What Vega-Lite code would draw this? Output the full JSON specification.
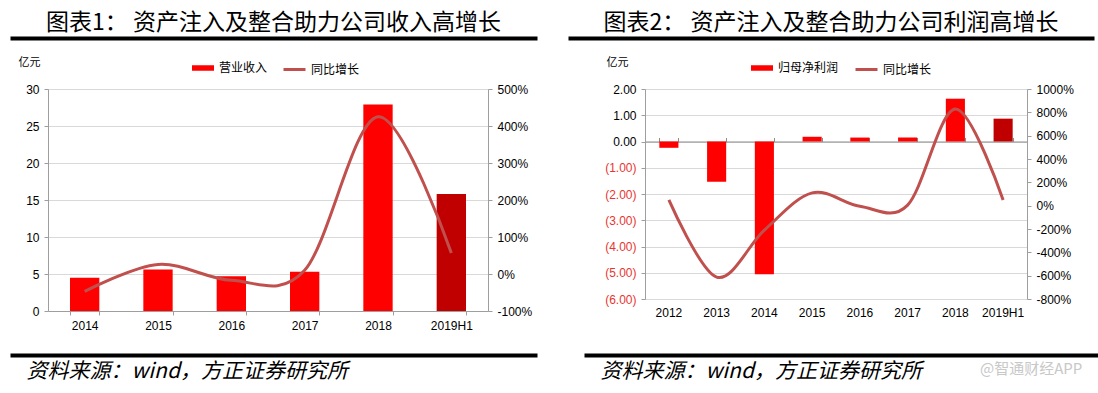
{
  "$schema": "https://vega.github.io/schema/vega-lite/v6.json",
  "padding": {"left": 8, "top": 12, "right": 0, "bottom": 10},
  "background": "white",
  "config": {
    "view": {"stroke": null},
    "font": "Liberation Sans",
    "axis": {"labelFont": "Liberation Sans", "labelFontSize": 12, "labelColor": "#000000", "domainColor": "#9E9E9E", "tickColor": "#9E9E9E", "gridColor": "#D9D9D9", "titleFont": "Noto Sans CJK SC", "titleFontWeight": "normal", "titleColor": "#000000"},
    "legend": {"labelFont": "Noto Sans CJK SC", "labelFontSize": 12, "labelColor": "#000000", "padding": 0},
    "title": {"font": "Noto Sans CJK SC", "fontWeight": "normal", "color": "#000000"}
  },
  "datasets": {
    "rev": [
      {"period": "2014", "revenue": 4.5, "growth": -47},
      {"period": "2015", "revenue": 5.6, "growth": 26},
      {"period": "2016", "revenue": 4.7, "growth": -17},
      {"period": "2017", "revenue": 5.3, "growth": 10},
      {"period": "2018", "revenue": 27.9, "growth": 425},
      {"period": "2019H1", "revenue": 15.8, "growth": 57}
    ],
    "prof": [
      {"period": "2012", "profit": -0.24, "growth": 49},
      {"period": "2013", "profit": -1.53, "growth": -612},
      {"period": "2014", "profit": -5.06, "growth": -209},
      {"period": "2015", "profit": 0.18, "growth": 110},
      {"period": "2016", "profit": 0.15, "growth": -5},
      {"period": "2017", "profit": 0.15, "growth": 5},
      {"period": "2018", "profit": 1.63, "growth": 828},
      {"period": "2019H1", "profit": 0.87, "growth": 49}
    ]
  },
  "spacing": 18,
  "resolve": {"scale": {"fill": "independent", "stroke": "independent"}, "legend": {"fill": "independent", "stroke": "independent"}},
  "vconcat": [
    {
      "spacing": 25,
      "hconcat": [
        {
          "width": 527, "height": 1,
          "title": {"text": "图表1：  资产注入及整合助力公司收入高增长", "fontSize": 23, "anchor": "middle", "frame": "group", "dx": -38, "offset": 2},
          "data": {"values": [{"v": 0.5}]},
          "mark": {"type": "point", "opacity": 0, "size": 0},
          "encoding": {"x": {"field": "v", "type": "quantitative", "scale": {"domain": [0, 1], "range": [-38, 489]}, "axis": {"orient": "bottom", "domainColor": "#000000", "domainWidth": 4, "labels": false, "ticks": false, "grid": false, "title": null}}}
        },
        {
          "width": 526, "height": 1,
          "title": {"text": "图表2：  资产注入及整合助力公司利润高增长", "fontSize": 23, "anchor": "middle", "frame": "group", "dx": -38, "offset": 2},
          "data": {"values": [{"v": 0.5}]},
          "mark": {"type": "point", "opacity": 0, "size": 0},
          "encoding": {"x": {"field": "v", "type": "quantitative", "scale": {"domain": [0, 1], "range": [-38, 488]}, "axis": {"orient": "bottom", "domainColor": "#000000", "domainWidth": 4, "labels": false, "ticks": false, "grid": false, "title": null}}}
        }
      ]
    },
    {
      "spacing": 24,
      "resolve": {"scale": {"fill": "independent", "stroke": "independent"}, "legend": {"fill": "independent", "stroke": "independent"}},
      "vconcat": [
        {
          "spacing": 71,
          "resolve": {"scale": {"fill": "independent", "stroke": "independent"}, "legend": {"fill": "independent", "stroke": "independent"}},
          "hconcat": [
            {
              "width": 440, "height": 222,
              "data": {"name": "rev"},
              "layer": [
                {
                  "mark": {"type": "bar"},
                  "encoding": {
                    "x": {"field": "period", "type": "nominal", "sort": null, "scale": {"paddingInner": 0.6, "paddingOuter": 0.3}, "axis": {"orient": "bottom", "labelAngle": 0, "tickBand": "extent", "tickSize": 4, "labelPadding": 5, "title": null}},
                    "y": {"field": "revenue", "type": "quantitative", "scale": {"domain": [0, 30]}, "axis": {"orient": "left", "values": [0, 5, 10, 15, 20, 25, 30], "grid": true, "tickSize": 4, "labelPadding": 5, "minExtent": 40, "maxExtent": 40, "title": "亿元", "titleAngle": 0, "titleX": -30, "titleY": -27, "titleAlign": "left", "titleBaseline": "middle", "titleFontSize": 11}},
                    "fill": {"condition": {"test": "datum.period === '2019H1'", "value": "#C00000"}, "datum": "营业收入", "scale": {"range": ["#FF0000"]}, "legend": {"orient": "none", "legendX": 144, "legendY": -32, "title": null, "symbolType": "M-1,-0.25L1,-0.25L1,0.25L-1,0.25Z", "symbolSize": 484, "symbolStrokeWidth": 0, "labelOffset": 5}}
                  }
                },
                {
                  "mark": {"type": "line", "interpolate": "cardinal", "strokeWidth": 3},
                  "encoding": {
                    "x": {"field": "period", "type": "nominal", "sort": null},
                    "y": {"field": "growth", "type": "quantitative", "scale": {"domain": [-100, 500]}, "axis": {"orient": "right", "values": [-100, 0, 100, 200, 300, 400, 500], "labelExpr": "datum.value + '%'", "grid": false, "tickSize": 4, "labelPadding": 5, "minExtent": 45, "maxExtent": 45, "title": null}},
                    "stroke": {"datum": "同比增长", "scale": {"range": ["#C0504D"]}, "legend": {"orient": "none", "legendX": 234, "legendY": -32, "title": null, "symbolType": "stroke", "symbolSize": 484, "symbolStrokeWidth": 3, "labelOffset": 4}}
                  }
                }
              ],
              "resolve": {"scale": {"y": "independent"}}
            },
            {
              "width": 382, "height": 210,
              "data": {"name": "prof"},
              "layer": [
                {
                  "mark": {"type": "bar"},
                  "encoding": {
                    "x": {"field": "period", "type": "nominal", "sort": null, "scale": {"paddingInner": 0.6, "paddingOuter": 0.3}, "axis": {"orient": "bottom", "labelAngle": 0, "domain": false, "ticks": false, "tickSize": 0, "labelPadding": 8, "title": null}},
                    "y": {"field": "profit", "type": "quantitative", "scale": {"domain": [-6, 2]}, "axis": {"orient": "left", "values": [-6, -5, -4, -3, -2, -1, 0, 1, 2], "labelExpr": "datum.value < 0 ? '(' + format(-datum.value, '.2f') + ')' : format(datum.value, '.2f')", "labelColor": {"condition": {"test": "datum.value < 0", "value": "#E8352F"}, "value": "#000000"}, "grid": true, "tickSize": 4, "labelPadding": 5, "minExtent": 41, "maxExtent": 41, "title": "亿元", "titleAngle": 0, "titleX": -39, "titleY": -27, "titleAlign": "left", "titleBaseline": "middle", "titleFontSize": 11}},
                    "fill": {"condition": {"test": "datum.period === '2019H1'", "value": "#C00000"}, "datum": "归母净利润", "scale": {"range": ["#FF0000"]}, "legend": {"orient": "none", "legendX": 106, "legendY": -32, "title": null, "symbolType": "M-1,-0.25L1,-0.25L1,0.25L-1,0.25Z", "symbolSize": 484, "symbolStrokeWidth": 0, "labelOffset": 5}}
                  }
                },
                {
                  "mark": {"type": "line", "interpolate": "cardinal", "strokeWidth": 3},
                  "encoding": {
                    "x": {"field": "period", "type": "nominal", "sort": null, "axis": {"orient": "top", "offset": -52.5, "labels": false, "tickBand": "extent", "tickSize": 4, "domainColor": "#8C8C8C", "tickColor": "#8C8C8C", "grid": false, "title": null}},
                    "y": {"field": "growth", "type": "quantitative", "scale": {"domain": [-800, 1000]}, "axis": {"orient": "right", "values": [-800, -600, -400, -200, 0, 200, 400, 600, 800, 1000], "labelExpr": "datum.value + '%'", "grid": false, "tickSize": 4, "labelPadding": 5, "title": null}},
                    "stroke": {"datum": "同比增长", "scale": {"range": ["#C0504D"]}, "legend": {"orient": "none", "legendX": 209, "legendY": -32, "title": null, "symbolType": "stroke", "symbolSize": 484, "symbolStrokeWidth": 3, "labelOffset": 4}}
                  }
                }
              ],
              "resolve": {"scale": {"y": "independent"}, "axis": {"x": "independent"}}
            }
          ]
        },
        {
          "spacing": 25,
          "hconcat": [
            {
              "width": 527, "height": 1,
              "data": {"values": [{"v": 0.5}]},
              "mark": {"type": "point", "opacity": 0, "size": 0},
              "encoding": {"x": {"field": "v", "type": "quantitative", "scale": {"domain": [0, 1], "range": [-38, 489]}, "axis": {"orient": "top", "domainColor": "#000000", "domainWidth": 4, "labels": false, "ticks": false, "grid": false, "title": "资料来源：wind，方正证券研究所", "titleX": -22, "titleY": 16, "titleAlign": "left", "titleBaseline": "middle", "titleAngle": 0, "titleFontSize": 21, "titleFontStyle": "italic"}}}
            },
            {
              "width": 526, "height": 1,
              "title": {"text": "@智通财经APP", "orient": "bottom", "anchor": "start", "frame": "group", "dx": 358, "offset": -19, "fontSize": 15, "color": "#C8C8C8"},
              "data": {"values": [{"v": 0.5}]},
              "mark": {"type": "point", "opacity": 0, "size": 0},
              "encoding": {"x": {"field": "v", "type": "quantitative", "scale": {"domain": [0, 1], "range": [-38, 488]}, "axis": {"orient": "top", "domainColor": "#000000", "domainWidth": 4, "labels": false, "ticks": false, "grid": false, "title": "资料来源：wind，方正证券研究所", "titleX": -22, "titleY": 16, "titleAlign": "left", "titleBaseline": "middle", "titleAngle": 0, "titleFontSize": 21, "titleFontStyle": "italic"}}}
            }
          ]
        }
      ]
    }
  ]
}
